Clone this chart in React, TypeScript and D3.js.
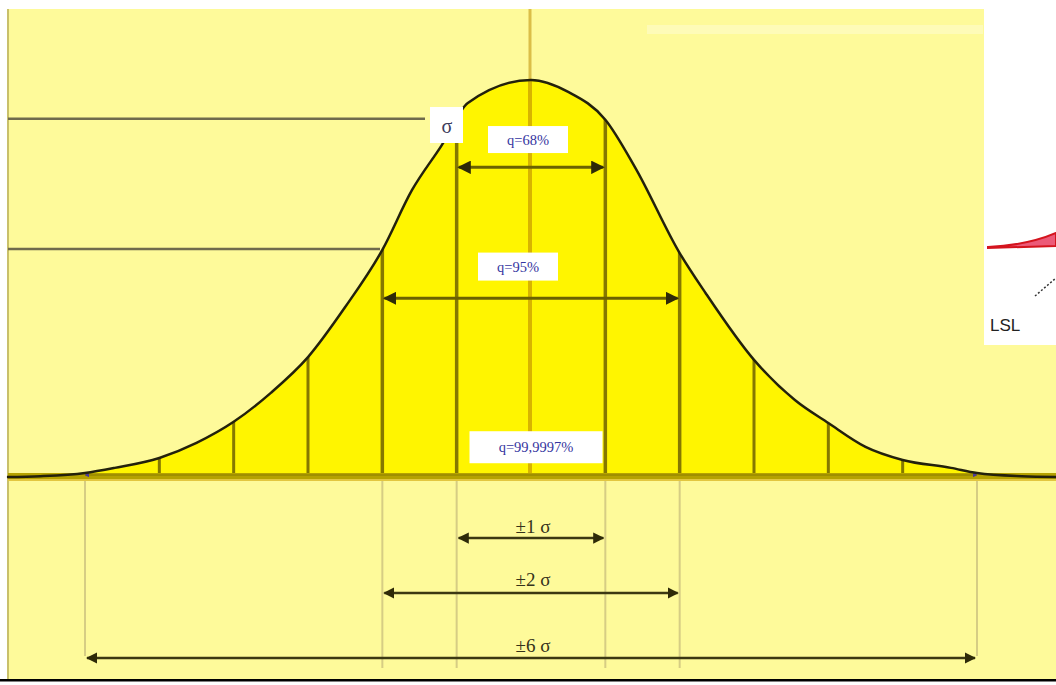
import React from "react";
import * as d3 from "d3";

// curve: position in sigma units, height relative to the peak
const sigmaPos = [-7.05, -6.6, -6, -5.6, -5, -4.5, -4, -3.5, -3, -2.5, -2, -1.6, -1.2, -0.85, 0, 0.5, 1, 1.4, 2, 2.35, 3, 3.55, 4, 4.5, 5, 5.65, 6, 6.6, 7.1];
const density = [0, 0.002, 0.01, 0.023, 0.048, 0.086, 0.139, 0.212, 0.302, 0.428, 0.572, 0.723, 0.836, 0.942, 1, 0.97, 0.9, 0.78, 0.564, 0.463, 0.295, 0.194, 0.136, 0.076, 0.043, 0.023, 0.01, 0.002, 0];

// vertical dividers inside the bell
const dividers = [-5, -4, -3, -2, -1, 1, 2, 3, 4, 5];
// dividers that continue below the baseline
const dropLines = [-6, -2, -1, 1, 2, 6];

// probability labels inside the bell
const qLabels = ["q=68%", "q=95%", "q=99,9997%"];
const qSpan = [1, 2, 6];
const qLevel = [0.85, 0.53, 0.075];
const qArrowLevel = [0.78, 0.45];

// spans drawn under the baseline
const spanLabels = ["±1 σ", "±2 σ", "±6 σ"];
const spanSigma = [1, 2, 6];

// horizontal reference levels on the left
const refLevels = [0.9, 0.572];

export default function App() {
  const W = 1056;
  const H = 685;
  const base = 477;

  const x = d3.scaleLinear().domain([-6, 6]).range([85, 977]);
  const y = d3.scaleLinear().domain([0, 1]).range([base, 80]);

  const pts = sigmaPos.map((s, i) => ({ s, d: density[i] }));
  const area = d3
    .area<{ s: number; d: number }>()
    .x((p) => x(p.s))
    .y0(base)
    .y1((p) => y(p.d))
    .curve(d3.curveMonotoneX);
  const line = d3
    .line<{ s: number; d: number }>()
    .x((p) => x(p.s))
    .y((p) => y(p.d))
    .curve(d3.curveMonotoneX);

  const qBox = [
    { w: 80, h: 27 },
    { w: 80, h: 28 },
    { w: 133, h: 32 },
  ];
  const qCenter = [528, 518, 536];
  const spanArrowY = [538, 593, 658];
  const spanTextY = [533, 586, 652];
  const refEnd = [425, 380];

  return (
    <svg
      width={W}
      height={H}
      style={{ position: "absolute", left: 0, top: 0, background: "#fff" }}
      fontFamily="'Liberation Serif', 'DejaVu Serif', serif"
    >
      <defs>
        <marker id="head" viewBox="0 0 10 10" refX="9" refY="5" markerWidth="4.5" markerHeight="4.5" orient="auto-start-reverse">
          <path d="M0,0 L10,5 L0,10 z" fill="#2e2a08" />
        </marker>
        <marker id="headP" viewBox="0 0 10 10" refX="9" refY="5" markerWidth="4.5" markerHeight="4.5" orient="auto-start-reverse">
          <path d="M0,0 L10,5 L0,10 z" fill="#4b3a9a" />
        </marker>
        <clipPath id="bell">
          <path d={area(pts) || ""} />
        </clipPath>
      </defs>

      {/* background */}
      <rect x={7} y={9} width={W - 7} height={670} fill="#fefa9a" />
      <rect x={647} y={25} width={336} height={9} fill="#fff" opacity={0.3} />
      <line x1={8} x2={8} y1={9} y2={679} stroke="#c9c06a" strokeWidth={2} />

      {/* center line */}
      <line x1={x(0) - 1} x2={x(0) - 1} y1={9} y2={base} stroke="#d6b43a" strokeWidth={3} opacity={0.85} />

      {/* reference levels */}
      {refLevels.map((r, i) => (
        <line key={i} x1={8} x2={refEnd[i]} y1={y(r) - 1} y2={y(r) - 1} stroke="#6f6a4c" strokeWidth={2.5} />
      ))}

      {/* filled bell */}
      <path d={area(pts) || ""} fill="#fff500" />
      <g clipPath="url(#bell)">
        <line x1={x(0) - 1} x2={x(0) - 1} y1={60} y2={base} stroke="#d8b400" strokeWidth={4} />
        {dividers.map((k) => (
          <line key={k} x1={x(k)} x2={x(k)} y1={60} y2={base} stroke="#857800" strokeWidth={Math.abs(k) <= 2 ? 3.5 : 3} />
        ))}
      </g>

      {/* baseline */}
      <rect x={8} y={base - 4} width={W - 8} height={6} fill="#b5a200" />
      <line x1={8} x2={W} y1={base + 3} y2={base + 3} stroke="#e2c640" strokeWidth={2} />
      <line x1={x(-6)} x2={x(6)} y1={base - 2} y2={base - 2} stroke="#8a7c00" strokeWidth={1} markerStart="url(#headP)" markerEnd="url(#headP)" />

      {/* curve */}
      <path d={line(pts) || ""} fill="none" stroke="#23210c" strokeWidth={2.5} />

      {/* drop lines under the baseline */}
      {dropLines.map((k) => (
        <line key={k} x1={x(k)} x2={x(k)} y1={base + 4} y2={Math.abs(k) === 6 ? 656 : 668} stroke="#d6cd84" strokeWidth={2} />
      ))}

      {/* sigma label */}
      <rect x={430} y={107} width={33} height={36} fill="#fff" />
      <text x={447} y={133} textAnchor="middle" fontSize={20} fill="#3c3c5c">σ</text>

      {/* q labels and arrows */}
      {qLabels.map((t, i) => {
        const cy = y(qLevel[i]);
        return (
          <g key={t}>
            <rect x={qCenter[i] - qBox[i].w / 2} y={cy - qBox[i].h / 2} width={qBox[i].w} height={qBox[i].h} fill="#fff" />
            <text x={qCenter[i]} y={cy + 5} textAnchor="middle" fontSize={14.5} fill="#3434a0">{t}</text>
            {i < 2 && (
              <line x1={x(-qSpan[i]) + 2} x2={x(qSpan[i]) - 2} y1={y(qArrowLevel[i])} y2={y(qArrowLevel[i])} stroke="#6b6100" strokeWidth={3} markerStart="url(#head)" markerEnd="url(#head)" />
            )}
          </g>
        );
      })}

      {/* spans under baseline */}
      {spanLabels.map((t, i) => (
        <g key={t}>
          <text x={x(0) + 2} y={spanTextY[i]} textAnchor="middle" fontSize={19} fill="#35331a">{t}</text>
          <line x1={x(-spanSigma[i]) + 2} x2={x(spanSigma[i]) - 2} y1={spanArrowY[i]} y2={spanArrowY[i]} stroke="#3c3812" strokeWidth={2.5} markerStart="url(#head)" markerEnd="url(#head)" />
        </g>
      ))}

      {/* overlapping fragment on the right */}
      <rect x={984} y={0} width={W - 984} height={345} fill="#fff" />
      <path d="M988,247 C1010,246 1035,242 1056,233 L1056,246 L988,248 Z" fill="#ec5a78" stroke="#d4141e" strokeWidth={2} />
      <line x1={1035} y1={296} x2={1056} y2={278} stroke="#333" strokeWidth={1.5} strokeDasharray="2,2" />
      <text x={990} y={331} fontSize={17} fontFamily="'Liberation Sans', Arial, sans-serif" fill="#222">LSL</text>

      {/* bottom rule */}
      <rect x={0} y={679} width={W} height={2.5} fill="#000" />
    </svg>
  );
}
